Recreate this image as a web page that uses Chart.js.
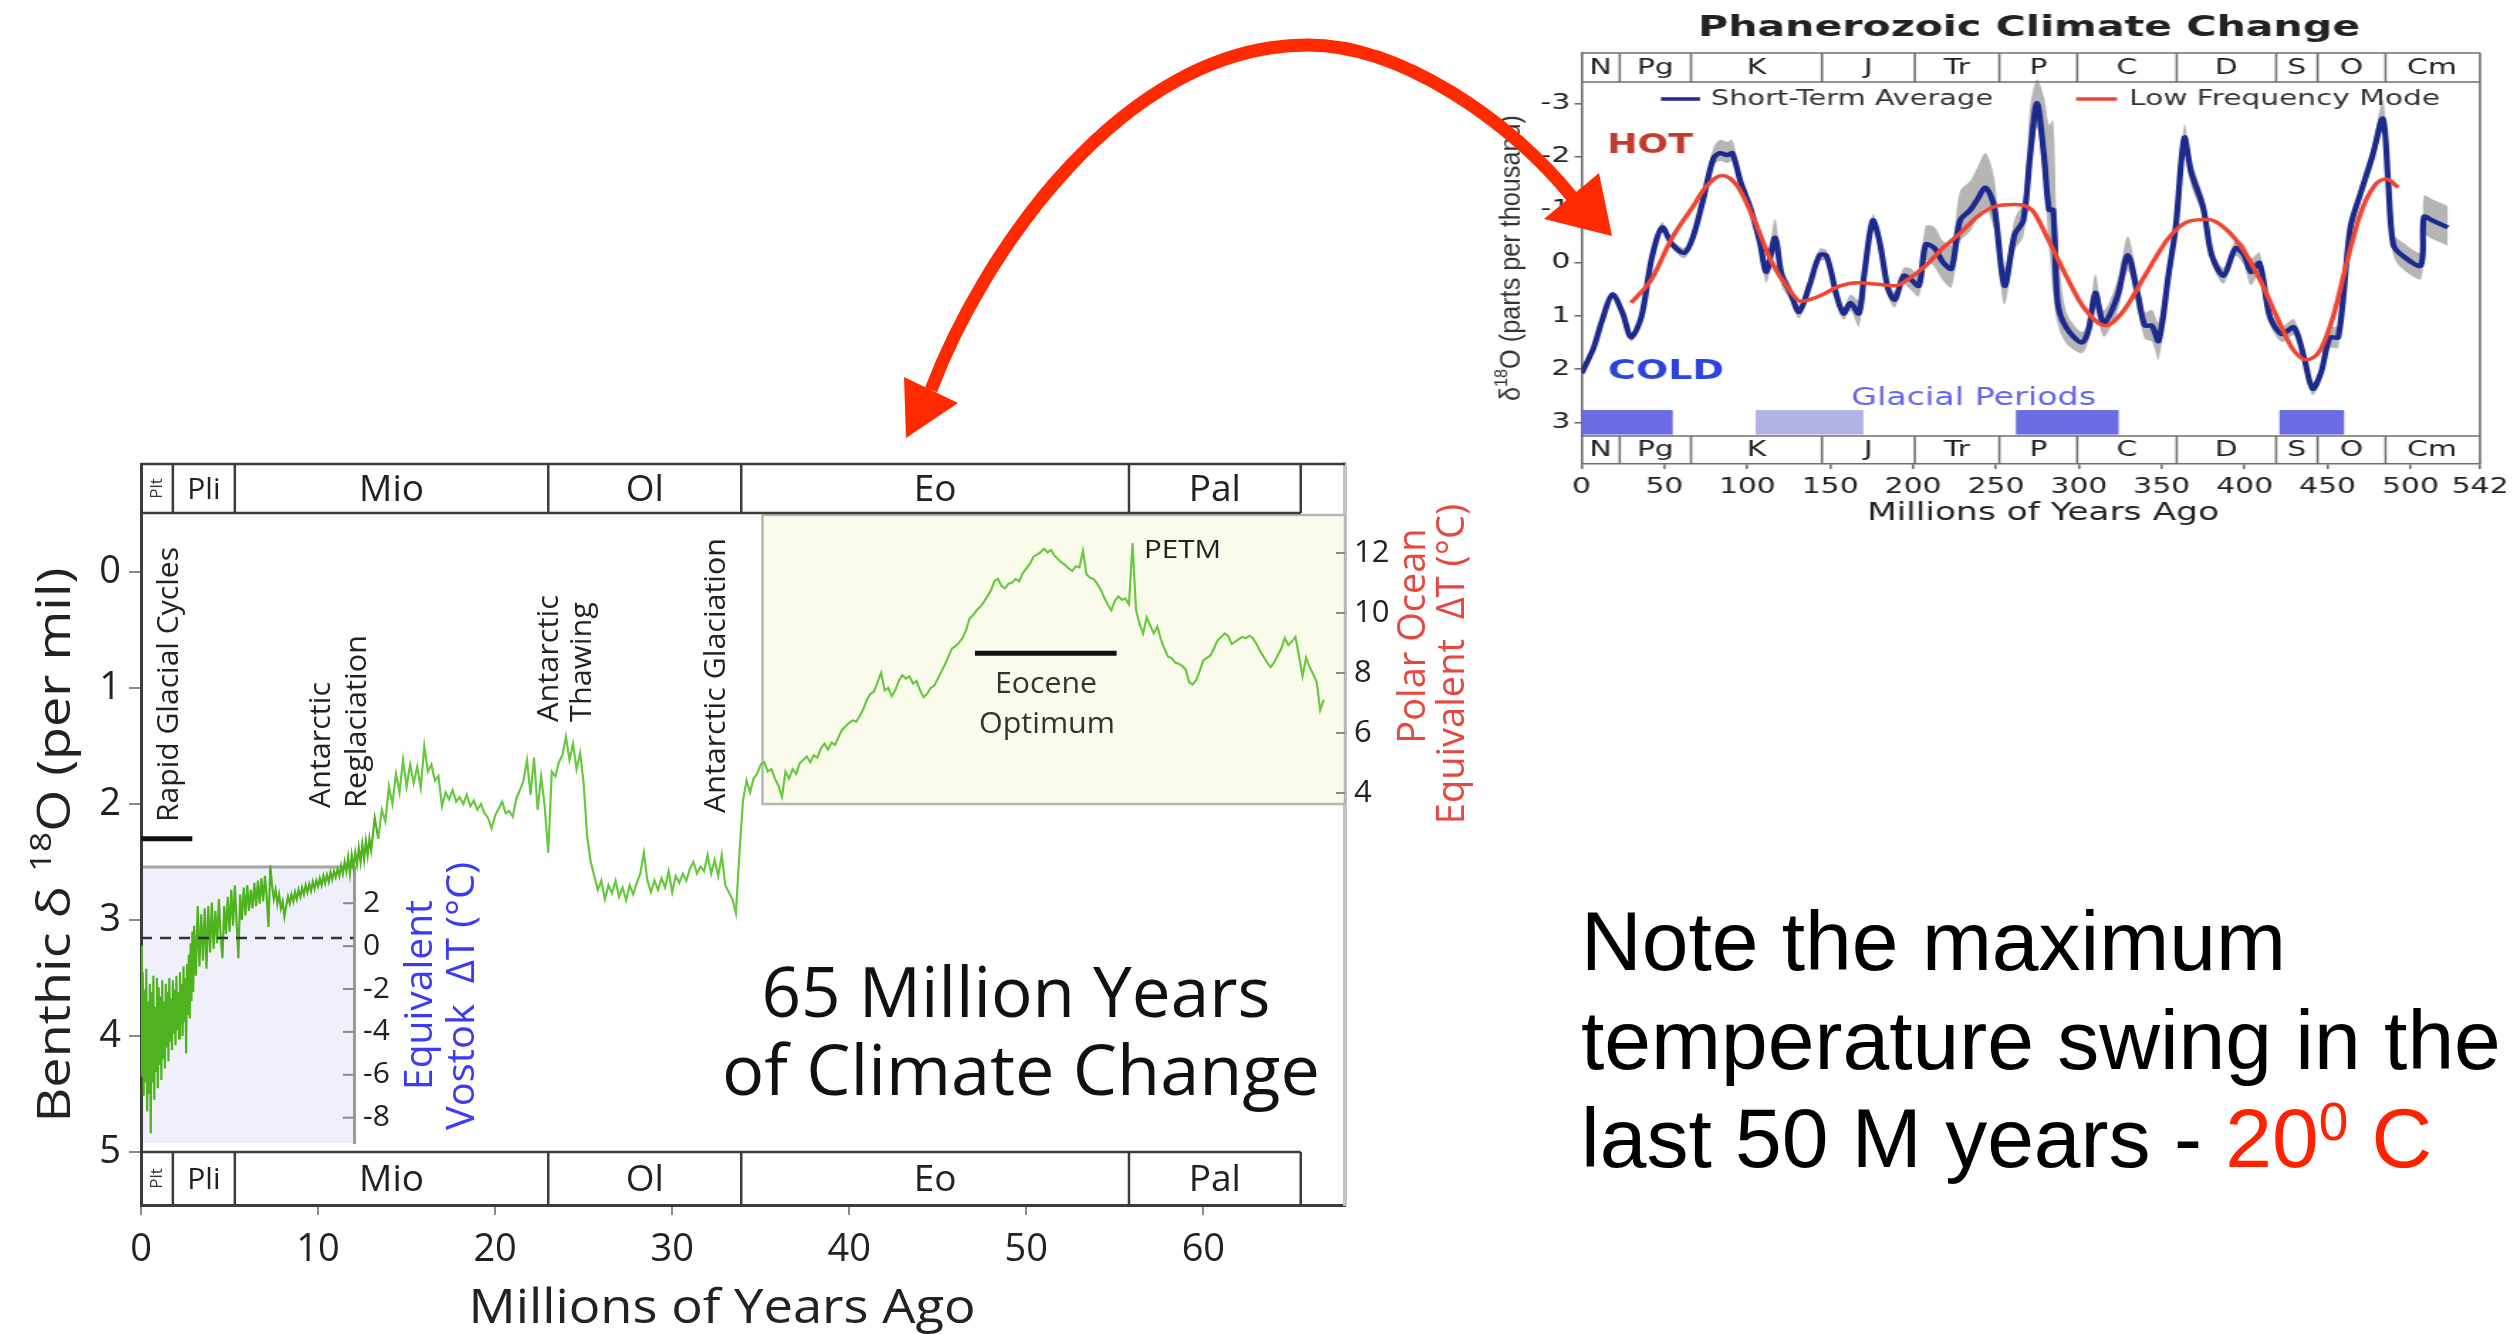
<!DOCTYPE html>
<html lang="en">
<head>
<meta charset="utf-8">
<title>65 Million Years of Climate Change</title>
<script src="https://cdn.jsdelivr.net/npm/chart.js@4.4.1/dist/chart.umd.min.js"></script>
<style>
  html, body { margin: 0; padding: 0; background: #ffffff; }
  body { position: relative; width: 2517px; height: 1334px; overflow: hidden; }
  canvas { position: absolute; }
  #vostokChart { left: 0; top: 840px; z-index: 1; }
  #cenozoicChart { left: 0; top: 420px; z-index: 2; }
  #phanerozoicChart { left: 1480px; top: 0; z-index: 3; }
  #arrow { position: absolute; left: 0; top: 0; z-index: 4; pointer-events: none; }
  #note { position: absolute; left: 1581px; top: 892px; z-index: 5;
          font-family: 'Liberation Sans', Arial, Helvetica, sans-serif; font-size: 84px;
          line-height: 98.5px; color: #000; white-space: nowrap; }
  #note .hot { color: #ff2200; }
  #note .deg { font-size: 53px; position: relative; top: -27px; }
</style>
</head>
<body>
<canvas id="vostokChart" width="520" height="330"></canvas>
<canvas id="cenozoicChart" width="1500" height="914"></canvas>
<canvas id="phanerozoicChart" width="730" height="540" style="width:1037px;height:540px"></canvas>

<svg id="arrow" width="2517" height="1334" viewBox="0 0 2517 1334">
  <path d="M 931 390 C 980 260, 1120 45, 1308 45 C 1400 45, 1510 120, 1572 197"
        fill="none" stroke="#ff2a00" stroke-width="13" stroke-linecap="butt"/>
  <polygon points="906,438 904,377 958,403" fill="#ff2a00"/>
  <polygon points="1612,236 1544,219 1599,173" fill="#ff2a00"/>
</svg>

<div id="note">Note the maximum<br>temperature swing in the<br>last 50 M years - <span class="hot">20<span class="deg">0</span> C</span></div>

<script>
// ---------------------------------------------------------------------------
// Cenozoic benthic foraminifera δ18O (per mil), read on regular age steps (Myr)
// ---------------------------------------------------------------------------
const glacialBandStart = 0.0, glacialBandStep = 0.05;
const glacialBandD18O = [
  3.22,4.35,3.45,4.52,3.60,4.40,3.42,4.65,3.70,4.50,
  3.55,4.84,3.62,4.40,3.48,4.55,3.75,4.30,3.50,4.45,
  3.58,4.25,3.66,4.38,3.52,4.20,3.70,4.28,3.55,4.10,
  3.62,4.22,3.50,4.05,3.68,4.12,3.52,3.98,3.60,4.08,
  3.48,3.95,3.62,4.02,3.45,3.90,3.55,4.00,3.40,3.88,
  3.50,4.15,3.38,3.82,3.30,3.85,3.20,3.70,3.10,3.62
];
const lateNeogeneStart = 3.0, lateNeogeneStep = 0.1;
const lateNeogeneD18O = [
  3.05,3.48,2.88,3.40,2.95,3.35,2.90,3.42,2.88,3.28,
  2.85,3.25,2.92,3.20,2.82,3.15,3.33,2.88,3.12,2.80,
  3.10,2.74,3.05,2.70,3.02,3.33,2.78,3.00,2.72,2.96,
  2.70,2.92,2.74,2.90,2.68,2.88,2.66,2.86,2.64,2.84,
  2.62,2.80,3.06,2.53,2.70,2.82,2.74,2.86,2.78,2.90,
  2.84,2.97,2.88,2.80,2.86,2.78,2.84,2.76,2.82,2.74,
  2.80,2.72,2.78,2.70,2.76,2.69,2.75,2.67,2.73,2.66,
  2.71,2.64,2.70,2.62,2.68,2.61,2.67,2.59,2.65,2.58,
  2.63,2.56,2.62,2.53,2.60,2.50,2.58,2.46,2.60,2.44,
  2.55,2.42,2.52,2.38,2.50,2.35,2.48,2.32,2.44,2.30
];
const mioOligoStart = 13.0, mioOligoStep = 0.2;
const mioOligoD18O = [
  2.40,2.12,2.30,2.05,2.15,1.85,2.00,1.74,1.90,1.62,
  1.85,1.66,1.82,1.68,1.86,1.50,1.72,1.66,1.80,1.76,
  2.02,1.90,1.96,1.88,1.98,1.94,2.00,1.92,2.02,1.97,
  2.05,2.00,2.08,2.12,2.21,2.10,2.04,1.98,2.08,2.06,
  2.11,1.95,1.88,1.80,1.62,1.92,1.60,2.05,1.76,2.02,
  2.42,1.72,1.76,1.64,1.58,1.42,1.62,1.48,1.70,1.56,
  1.82,2.28,2.50,2.62,2.74,2.66,2.82,2.70,2.77,2.66,
  2.80,2.72,2.83,2.70,2.78,2.68,2.60,2.42,2.66,2.76,
  2.66,2.74,2.64,2.72,2.58,2.76,2.62,2.68,2.60,2.66,
  2.56,2.50,2.60,2.54,2.58,2.44,2.60,2.48,2.62,2.44,
  2.70,2.76,2.82,2.94,2.42,1.97,1.80,1.90,1.78
];
const paleogeneStart = 34.8, paleogeneStep = 0.2;
const paleogeneD18O = [
  1.74,1.66,1.64,1.72,1.70,1.78,1.84,1.94,1.72,1.78,
  1.70,1.74,1.65,1.62,1.59,1.64,1.58,1.60,1.52,1.48,
  1.53,1.47,1.49,1.42,1.36,1.33,1.30,1.28,1.29,1.24,
  1.18,1.10,1.05,1.03,0.95,0.87,1.02,1.00,1.07,1.02,
  0.94,0.89,0.92,0.90,0.96,0.94,1.02,1.08,1.05,1.00,
  0.98,0.92,0.86,0.80,0.73,0.66,0.64,0.61,0.57,0.50,
  0.40,0.37,0.33,0.30,0.26,0.21,0.16,0.08,0.06,0.12,
  0.14,0.10,0.09,0.06,0.08,0.01,-0.03,-0.07,-0.13,-0.15,
  -0.17,-0.20,-0.17,-0.19,-0.14,-0.11,-0.08,-0.06,-0.03,-0.01,
  -0.05,-0.04,-0.18,0.02,0.05,0.06,0.10,0.15,0.22,0.28,
  0.33,0.25,0.21,0.24,0.23,0.28,-0.25,0.33,0.45,0.53,
  0.39,0.46,0.53,0.47,0.58,0.66,0.73,0.74,0.78,0.79,
  0.81,0.84,0.95,0.97,0.93,0.85,0.76,0.74,0.72,0.66,
  0.59,0.56,0.53,0.55,0.62,0.60,0.58,0.56,0.57,0.55,
  0.57,0.62,0.68,0.73,0.78,0.82,0.78,0.72,0.66,0.57,
  0.63,0.60,0.56,0.72,0.90,0.74,0.82,0.88,0.95,1.19,
  1.10
];

const cenozoicEpochBounds = [0, 1.8, 5.3, 23.0, 33.9, 55.8, 65.5];
const cenozoicEpochNames  = ['Plt', 'Pli', 'Mio', 'Ol', 'Eo', 'Pal'];
const ageTickValues    = [0, 10, 20, 30, 40, 50, 60];
const d18oTickValues   = [0, 1, 2, 3, 4, 5];
const polarTickValues  = [4, 6, 8, 10, 12];
const vostokTickValues = [-8, -6, -4, -2, 0, 2];
const vostokZeroD18O = 3.155;          // δ18O level where the Vostok ΔT is 0 °C
const warmBoxStartAge = 35.1, warmBoxFloorD18O = 2.0;
const glacialCyclesSpan = [0, 2.9];
const eoceneOptimumSpan = [47.1, 55.1];

// ---------------------------------------------------------------------------
// Phanerozoic δ18O (parts per thousand) against age (Myr)
// ---------------------------------------------------------------------------
const phanAge = [
  0,7.2,12.4,18.6,24.8,29.9,36.1,42.3,48.5,54.7,
  62.0,67.1,73.3,79.5,83.6,87.8,90.9,96.0,102.2,107.4,
  111.5,116.7,120.8,126.0,131.2,137.4,143.6,147.7,153.9,158.0,
  162.2,167.3,170.4,175.6,179.7,184.9,189.0,194.2,198.3,203.5,
  207.6,212.8,217.9,223.1,228.3,234.5,238.6,243.7,248.9,255.1,
  261.3,266.5,270.6,274.7,278.9,282.0,284.5,287.2,292.3,301.6,
  305.8,309.9,315.0,323.3,329.5,335.7,339.8,344.0,348.1,354.3,
  358.4,363.6,367.7,374.9,380.1,387.3,394.5,399.7,403.8,409.0,
  415.2,422.4,429.7,435.9,441.0,446.2,451.4,456.5,463.8,470.0,
  477.2,483.4,486.5,489.6,494.8,506.2,508.2,513.3,522.6
];
const phanShortTerm = [
  2.08,1.60,1.08,0.59,0.95,1.40,1.01,-0.09,-0.67,-0.35,
  -0.19,-0.48,-1.19,-1.97,-2.07,-2.03,-2.07,-1.52,-1.00,-0.41,
  0.17,-0.48,0.24,0.56,0.92,0.43,-0.15,-0.14,0.62,0.95,
  0.75,0.95,0.24,-0.80,-0.41,0.49,0.69,0.24,0.30,0.43,
  -0.35,-0.28,-0.02,0.11,-0.80,-1.00,-1.19,-1.42,-1.06,0.43,
  -0.54,-0.80,-2.03,-3.01,-2.03,-1.00,-1.00,0.75,1.21,1.50,
  1.27,0.56,1.14,0.62,-0.15,0.62,1.18,1.18,1.47,0.17,
  -0.67,-2.36,-1.71,-1.06,-0.15,0.24,-0.28,-0.15,0.17,0.00,
  1.01,1.34,1.21,1.79,2.37,2.05,1.40,1.40,-0.67,-1.32,
  -2.03,-2.72,-1.58,-0.35,-0.15,0.05,-0.87,-0.80,-0.67
];
// half-width of the grey uncertainty envelope, warm side and cold side
const phanSpreadWarm = [
  0.05,0.05,0.05,0.05,0.05,0.08,0.08,0.08,0.10,0.08,
  0.10,0.10,0.15,0.20,0.25,0.25,0.25,0.15,0.12,0.12,
  0.20,0.35,0.20,0.15,0.12,0.12,0.12,0.10,0.12,0.12,
  0.15,0.25,0.15,0.12,0.12,0.15,0.15,0.15,0.20,0.20,
  0.35,0.40,0.40,0.45,0.55,0.55,0.60,0.65,0.55,0.35,
  0.30,0.35,0.90,0.45,1.10,1.60,1.70,1.20,0.30,0.20,
  0.20,0.35,0.25,0.30,0.35,0.30,0.25,0.30,0.35,0.25,
  0.20,0.25,0.25,0.20,0.15,0.15,0.15,0.20,0.25,0.20,
  0.15,0.15,0.15,0.12,0.12,0.15,0.20,0.20,0.15,0.15,
  0.20,0.35,0.20,0.20,0.25,0.25,0.40,0.40,0.40
];
const phanSpreadCold = [
  0.05,0.05,0.05,0.05,0.05,0.08,0.08,0.08,0.10,0.08,
  0.10,0.10,0.15,0.15,0.15,0.15,0.15,0.15,0.12,0.12,
  0.20,0.30,0.20,0.15,0.12,0.12,0.12,0.10,0.12,0.12,
  0.15,0.25,0.15,0.12,0.12,0.15,0.15,0.15,0.20,0.20,
  0.30,0.35,0.35,0.35,0.40,0.40,0.35,0.40,0.45,0.35,
  0.30,0.30,0.40,0.45,0.50,0.70,1.60,0.40,0.30,0.20,
  0.20,0.30,0.25,0.30,0.30,0.30,0.25,0.30,0.35,0.25,
  0.20,0.25,0.25,0.20,0.15,0.15,0.15,0.20,0.25,0.20,
  0.15,0.15,0.15,0.12,0.12,0.15,0.20,0.20,0.15,0.15,
  0.20,0.25,0.20,0.20,0.25,0.25,0.35,0.35,0.35
];
const lowFreqAge = [
  29.9,42.3,54.7,67.1,75.4,84.7,94.0,104.3,114.6,125.0,
  132.2,143.6,156.0,166.3,178.7,189.0,197.2,207.6,217.9,228.3,
  238.6,248.9,261.3,271.6,282.0,292.3,302.6,316.1,327.4,339.8,
  354.3,366.6,378.0,389.4,399.7,410.1,420.4,428.6,436.9,445.2,
  453.4,461.7,470.0,478.2,485.4,492.7
];
const lowFreqMode = [
  0.75,0.30,-0.48,-1.06,-1.45,-1.65,-1.45,-0.80,-0.02,0.49,
  0.72,0.62,0.43,0.37,0.40,0.43,0.30,0.05,-0.28,-0.56,
  -0.87,-1.06,-1.10,-1.00,-0.41,0.24,0.82,1.18,0.88,0.24,
  -0.48,-0.79,-0.82,-0.62,-0.22,0.37,1.08,1.60,1.82,1.66,
  1.01,-0.02,-0.94,-1.45,-1.58,-1.42
];
const phanPeriodBounds = [0, 23, 66, 145, 201, 252, 299, 359, 419, 444, 485, 541];
const phanPeriodNames  = ['N', 'Pg', 'K', 'J', 'Tr', 'P', 'C', 'D', 'S', 'O', 'Cm'];
const glacialFrom  = [0, 105, 262, 421];
const glacialTo    = [55, 170, 324, 460];
const glacialMinor = [false, true, false, false];
const phanAgeTicks  = [0, 50, 100, 150, 200, 250, 300, 350, 400, 450, 500, 542];
const phanD18OTicks = [-3, -2, -1, 0, 1, 2, 3];

// ---------------------------------------------------------------------------
// helpers
// ---------------------------------------------------------------------------
const OPEN = "'Open Sans', 'DejaVu Sans', sans-serif";
const VERA = "'DejaVu Sans', Verdana, sans-serif";
const ARIAL = "'Liberation Sans', Arial, sans-serif";

function onAgeGrid(start, step, values) {
  return values.map((v, i) => ({ x: Math.round((start + i * step) * 1000) / 1000, y: v }));
}
function pairUp(xs, ys) { return xs.map((v, i) => ({ x: v, y: ys[i] })); }
function fixedTicks(values) { return scale => { scale.ticks = values.map(v => ({ value: v })); }; }
function seg(ctx, x0, y0, x1, y1) { ctx.beginPath(); ctx.moveTo(x0, y0); ctx.lineTo(x1, y1); ctx.stroke(); }

// text runs: [{text, font, dy}] drawn from (x, y); optional rotation, fitted width, horizontal pre-scale
function drawRuns(ctx, runs, x, y, o) {
  ctx.save();
  ctx.translate(x, y);
  if (o.sx) ctx.scale(o.sx, 1);
  if (o.rotate) ctx.rotate(-Math.PI / 2);
  ctx.fillStyle = o.color || '#222';
  ctx.textBaseline = o.baseline || 'alphabetic';
  ctx.textAlign = 'left';
  let total = 0;
  runs.forEach(r => { ctx.font = r.font; r.w = ctx.measureText(r.text).width; total += r.w; });
  if (o.width) ctx.scale(o.width / total, 1);
  let cx = o.align === 'center' ? -total / 2 : (o.align === 'right' ? -total : 0);
  runs.forEach(r => { ctx.font = r.font; ctx.fillText(r.text, cx, r.dy || 0); cx += r.w; });
  ctx.restore();
}
function drawText(ctx, text, x, y, font, o) {
  drawRuns(ctx, [{ text, font }], x, y, o || {});
}

// ---------------------------------------------------------------------------
// Vostok equivalent ΔT panel (sits underneath the main Cenozoic chart)
// ---------------------------------------------------------------------------
const VOSTOK_TOP = 840;
const vostokDecor = {
  id: 'vostokDecor',
  beforeDraw(chart) {
    const { ctx, chartArea: a } = chart;
    ctx.save();
    ctx.fillStyle = '#f0f0fc';
    ctx.fillRect(a.left, a.top, a.right - a.left, a.bottom - a.top);
    ctx.strokeStyle = '#a6a6a6'; ctx.lineWidth = 3;
    seg(ctx, a.left, a.top, a.right, a.top);
    ctx.restore();
  },
  afterDraw(chart) {
    const { ctx, chartArea: a, scales: { y } } = chart;
    ctx.save();
    ctx.strokeStyle = '#8a8a8a'; ctx.lineWidth = 2;
    vostokTickValues.forEach(v => { const py = y.getPixelForValue(v); seg(ctx, a.right - 11, py, a.right, py); });
    const Y = v => v - VOSTOK_TOP;
    drawText(ctx, 'Equivalent', 421, Y(995), `38px ${OPEN}`,
      { rotate: true, align: 'center', baseline: 'middle', width: 190, color: '#3b3bf5' });
    drawText(ctx, 'Vostok  ΔT (°C)', 463, Y(996), `38px ${OPEN}`,
      { rotate: true, align: 'center', baseline: 'middle', width: 268, color: '#3b3bf5' });
    ctx.restore();
  }
};

new Chart(document.getElementById('vostokChart'), {
  type: 'line',
  data: { datasets: [] },
  options: {
    responsive: false, animation: false, devicePixelRatio: 1,
    layout: { padding: { left: 141, top: 12, bottom: 18, right: 0 } },
    plugins: { legend: { display: false }, tooltip: { enabled: false } },
    scales: {
      x: { type: 'linear', min: 0, max: 12, display: false },
      y: {
        type: 'linear', position: 'right', min: -9.18, max: 3.69,
        afterBuildTicks: fixedTicks(vostokTickValues),
        afterFit: s => { s.width = 166; },
        grid: { drawOnChartArea: false, drawTicks: false },
        border: { display: true, color: '#9a9a9a', width: 3 },
        ticks: { padding: 9, font: { family: OPEN, size: 30 }, color: '#222', autoSkip: false }
      }
    }
  },
  plugins: [vostokDecor]
});

// ---------------------------------------------------------------------------
// Main Cenozoic chart
// ---------------------------------------------------------------------------
const CZ_TOP = 420;
const cenozoicDecor = {
  id: 'cenozoicDecor',
  beforeDatasetsDraw(chart) {
    const { ctx, chartArea: a, scales: { x, y } } = chart;
    ctx.save();
    const bx0 = x.getPixelForValue(warmBoxStartAge);
    const by0 = a.top + 51, by1 = y.getPixelForValue(warmBoxFloorD18O);
    ctx.fillStyle = '#fbfbeb';
    ctx.fillRect(bx0, by0, a.right - bx0, by1 - by0);
    ctx.strokeStyle = '#b6b6b6'; ctx.lineWidth = 2.5;
    ctx.strokeRect(bx0, by0, a.right - bx0, by1 - by0);
    ctx.restore();
  },
  afterDraw(chart) {
    const { ctx, chartArea: a, scales: { x, y, yPolar } } = chart;
    const Y = v => v - CZ_TOP;
    ctx.save();

    // epoch header strips (top and bottom)
    const topA = a.top, topB = a.top + 49;
    const botA = y.getPixelForValue(5), botB = a.bottom;
    const endX = x.getPixelForValue(cenozoicEpochBounds[cenozoicEpochBounds.length - 1]);
    ctx.strokeStyle = '#3c3c3c'; ctx.lineWidth = 2.5;
    seg(ctx, a.left, topA, a.right, topA);
    seg(ctx, a.left, topB, endX, topB);
    seg(ctx, a.left, botA, endX, botA);
    cenozoicEpochBounds.slice(1).forEach(b => {
      const px = x.getPixelForValue(b);
      seg(ctx, px, topA, px, topB);
      seg(ctx, px, botA, px, botB);
    });
    cenozoicEpochNames.forEach((name, i) => {
      const cx = (x.getPixelForValue(cenozoicEpochBounds[i]) + x.getPixelForValue(cenozoicEpochBounds[i + 1])) / 2;
      [(topA + topB) / 2, (botA + botB) / 2].forEach(cy => {
        if (name === 'Plt') {
          drawText(ctx, name, cx, cy, `17px ${OPEN}`, { rotate: true, align: 'center', baseline: 'middle', color: '#333' });
        } else {
          const size = name === 'Pli' ? 30 : 37;
          drawText(ctx, name, cx, cy + 2, `${size}px ${OPEN}`, { align: 'center', baseline: 'middle', color: '#222' });
        }
      });
    });

    // inward tick marks of the polar-ocean scale
    ctx.strokeStyle = '#8a8a8a'; ctx.lineWidth = 2;
    polarTickValues.forEach(v => { const py = yPolar.getPixelForValue(v); seg(ctx, a.right - 9, py, a.right, py); });

    // event bars
    ctx.strokeStyle = '#111'; ctx.lineWidth = 5;
    let py = y.getPixelForValue(2.30);
    seg(ctx, x.getPixelForValue(glacialCyclesSpan[0]), py, x.getPixelForValue(glacialCyclesSpan[1]), py);
    py = y.getPixelForValue(0.70);
    seg(ctx, x.getPixelForValue(eoceneOptimumSpan[0]), py, x.getPixelForValue(eoceneOptimumSpan[1]), py);

    // axis titles
    drawRuns(ctx, [
      { text: 'Benthic δ ', font: `46px ${OPEN}` },
      { text: '18', font: `30px ${OPEN}`, dy: -15 },
      { text: 'O (per mil)', font: `46px ${OPEN}` }
    ], 57, Y(845), { rotate: true, align: 'center', baseline: 'middle', width: 555, color: '#222' });
    drawText(ctx, 'Millions of Years Ago', 722, Y(1323), `48px ${OPEN}`, { align: 'center', width: 507, color: '#222' });
    drawText(ctx, 'Polar Ocean', 1414, Y(636), `38px ${OPEN}`, { rotate: true, align: 'center', baseline: 'middle', color: '#e8473f' });
    drawText(ctx, 'Equivalent  ΔT (°C)', 1453, Y(664), `38px ${OPEN}`, { rotate: true, align: 'center', baseline: 'middle', color: '#e8473f' });

    // event labels
    const lab = `30px ${OPEN}`;
    const rot = w => ({ rotate: true, baseline: 'middle', width: w, color: '#222' });
    drawText(ctx, 'Rapid Glacial Cycles', 169, Y(822), lab, rot(275));
    drawText(ctx, 'Antarctic', 321, Y(808), lab, rot(126));
    drawText(ctx, 'Reglaciation', 357, Y(808), lab, rot(173));
    drawText(ctx, 'Antarctic', 549, Y(722), lab, rot(127));
    drawText(ctx, 'Thawing', 582, Y(722), lab, rot(120));
    drawText(ctx, 'Antarctic Glaciation', 716, Y(813), lab, rot(275));
    drawText(ctx, 'PETM', 1144, Y(558), `26px ${OPEN}`, { width: 77, color: '#222' });
    drawText(ctx, 'Eocene', 1046, Y(693), `30px ${OPEN}`, { align: 'center', width: 102, color: '#333' });
    drawText(ctx, 'Optimum', 1047, Y(733), `30px ${OPEN}`, { align: 'center', width: 136, color: '#333' });
    drawText(ctx, '65 Million Years', 1016, Y(1017), `70px ${OPEN}`, { align: 'center', width: 509, color: '#111' });
    drawText(ctx, 'of Climate Change', 1021, Y(1095), `70px ${OPEN}`, { align: 'center', width: 598, color: '#111' });
    ctx.restore();
  }
};

const benthicPoints = [
  ...onAgeGrid(glacialBandStart, glacialBandStep, glacialBandD18O),
  ...onAgeGrid(lateNeogeneStart, lateNeogeneStep, lateNeogeneD18O),
  ...onAgeGrid(mioOligoStart, mioOligoStep, mioOligoD18O),
  ...onAgeGrid(paleogeneStart, paleogeneStep, paleogeneD18O)
];

new Chart(document.getElementById('cenozoicChart'), {
  type: 'line',
  data: {
    datasets: [
      {
        data: benthicPoints, borderColor: '#5cbf31', borderWidth: 2.2, pointRadius: 0, tension: 0, order: 1,
        segment: { borderColor: c => (c.p0.parsed.x < 13.4 ? '#4fb320' : '#66c93f') }
      },
      {
        data: [{ x: 0, y: vostokZeroD18O }, { x: 12, y: vostokZeroD18O }],
        borderColor: '#333', borderWidth: 2.5, borderDash: [11, 8], pointRadius: 0, order: 0
      }
    ]
  },
  options: {
    responsive: false, animation: false, devicePixelRatio: 1,
    layout: { padding: { left: 0, right: 0, top: 44, bottom: 0 } },
    plugins: { legend: { display: false }, tooltip: { enabled: false } },
    scales: {
      x: {
        type: 'linear', min: 0, max: 68,
        afterBuildTicks: fixedTicks(ageTickValues),
        afterFit: s => { s.height = 129; },
        grid: { drawOnChartArea: false, tickLength: 10, color: '#8a8a8a', lineWidth: 2 },
        border: { display: true, color: '#3c3c3c', width: 3 },
        ticks: { padding: 12, maxRotation: 0, autoSkip: false, font: { family: OPEN, size: 38 }, color: '#222' }
      },
      y: {
        type: 'linear', position: 'left', reverse: true, min: -0.931, max: 5.457,
        afterBuildTicks: fixedTicks(d18oTickValues),
        afterFit: s => { s.width = 141; },
        grid: { drawOnChartArea: false, tickLength: 12, color: '#8a8a8a', lineWidth: 2 },
        border: { display: true, color: '#3c3c3c', width: 3 },
        ticks: { padding: 8, autoSkip: false, font: { family: OPEN, size: 38 }, color: '#222' }
      },
      yPolar: {
        type: 'linear', position: 'right', min: -9.733, max: 14.967,
        afterBuildTicks: fixedTicks(polarTickValues),
        afterFit: s => { s.width = 155; },
        grid: { drawOnChartArea: false, drawTicks: false },
        border: { display: true, color: '#c4c4c4', width: 4 },
        ticks: { padding: 9, autoSkip: false, font: { family: OPEN, size: 31 }, color: '#222' }
      }
    }
  },
  plugins: [cenozoicDecor]
});

// ---------------------------------------------------------------------------
// Phanerozoic climate change panel (canvas is displayed stretched horizontally)
// ---------------------------------------------------------------------------
const STRETCH = 1037 / 730;
const phanDecor = {
  id: 'phanDecor',
  beforeDatasetsDraw(chart) {
    const { ctx, scales: { x, y } } = chart;
    ctx.save();
    const yA = y.getPixelForValue(2.77), yB = y.getPixelForValue(3.23);
    glacialFrom.forEach((g, i) => {
      const x0 = x.getPixelForValue(g), x1 = x.getPixelForValue(glacialTo[i]);
      ctx.fillStyle = glacialMinor[i] ? '#b3b3e8' : '#6b6be4';
      ctx.fillRect(x0, yA, x1 - x0, yB - yA);
    });
    ctx.restore();
  },
  afterDraw(chart) {
    const { ctx, chartArea: a, scales: { x, y } } = chart;
    ctx.save();
    ctx.strokeStyle = '#6e6e6e'; ctx.lineWidth = 1.6;
    seg(ctx, a.left, a.top, a.right, a.top);
    seg(ctx, a.right, a.top, a.right, a.bottom);
    const hTop = a.top + 29, hBot = a.bottom - 28;
    seg(ctx, a.left, hTop, a.right, hTop);
    seg(ctx, a.left, hBot, a.right, hBot);
    phanPeriodBounds.slice(1, -1).forEach(b => {
      const px = x.getPixelForValue(b);
      seg(ctx, px, a.top, px, hTop);
      seg(ctx, px, hBot, px, a.bottom);
    });
    phanPeriodNames.forEach((name, i) => {
      const cx = (x.getPixelForValue(phanPeriodBounds[i]) + x.getPixelForValue(phanPeriodBounds[i + 1])) / 2;
      drawText(ctx, name, cx, (a.top + hTop) / 2 + 1, `21px ${VERA}`, { align: 'center', baseline: 'middle', color: '#222' });
      drawText(ctx, name, cx, (hBot + a.bottom) / 2 + 1, `21px ${VERA}`, { align: 'center', baseline: 'middle', color: '#222' });
    });

    // title, legend and labels
    drawText(ctx, 'Phanerozoic Climate Change', 386.5, 36, `bold 29px ${VERA}`, { align: 'center', width: 466, color: '#222' });
    ctx.lineWidth = 3.5;
    ctx.strokeStyle = '#1b2a8c'; seg(ctx, 127.4, 99, 154.9, 99);
    ctx.strokeStyle = '#f04632'; seg(ctx, 419.6, 99, 448.4, 99);
    drawText(ctx, 'Short-Term Average', 162.6, 105, `21px ${VERA}`, { width: 198.5, color: '#333' });
    drawText(ctx, 'Low Frequency Mode', 456.9, 105, `21px ${VERA}`, { width: 218.9, color: '#333' });
    drawText(ctx, 'HOT', 89.4, 153, `bold 26px ${VERA}`, { width: 60.6, color: '#c23b2f' });
    drawText(ctx, 'COLD', 90.1, 379, `bold 26px ${VERA}`, { width: 81.7, color: '#2c43de' });
    drawText(ctx, 'Glacial Periods', 261.2, 404.6, `25px ${VERA}`, { width: 172.5, color: '#6464ee' });
    drawText(ctx, 'Millions of Years Ago', 272.4, 520, `25px ${VERA}`, { width: 247.8, color: '#222' });
    drawRuns(ctx, [
      { text: 'δ', font: `28px ${ARIAL}` },
      { text: '18', font: `18px ${ARIAL}`, dy: -10 },
      { text: 'O (parts per thousand)', font: `28px ${ARIAL}` }
    ], 22.5, 401, { sx: 1 / STRETCH, rotate: true, baseline: 'middle', width: 286, color: '#333' });
    ctx.restore();
  }
};

const shortTermPoints = pairUp(phanAge, phanShortTerm);
const bandUpper = pairUp(phanAge, phanShortTerm.map((v, i) => v - phanSpreadWarm[i]));
const bandLower = pairUp(phanAge, phanShortTerm.map((v, i) => v + phanSpreadCold[i]));
const lowFreqPoints = pairUp(lowFreqAge, lowFreqMode);

new Chart(document.getElementById('phanerozoicChart'), {
  type: 'line',
  data: {
    datasets: [
      { data: bandUpper, fill: '+1', backgroundColor: '#b5b5b5', borderWidth: 0, pointRadius: 0, tension: 0.3, order: 3 },
      { data: bandLower, fill: false, borderWidth: 0, pointRadius: 0, tension: 0.3, order: 3 },
      { data: shortTermPoints, borderColor: '#1b2a8c', borderWidth: 4.2, pointRadius: 0, tension: 0.3, order: 1 },
      { data: lowFreqPoints, borderColor: '#f04632', borderWidth: 3.5, pointRadius: 0, cubicInterpolationMode: 'monotone', order: 0 }
    ]
  },
  options: {
    responsive: false, animation: false, devicePixelRatio: 1,
    layout: { padding: { left: 0, right: 22.5, top: 53, bottom: 0 } },
    plugins: { legend: { display: false }, tooltip: { enabled: false } },
    scales: {
      x: {
        type: 'linear', min: 0, max: 542,
        afterBuildTicks: fixedTicks(phanAgeTicks),
        afterFit: s => { s.height = 76; },
        grid: { drawOnChartArea: false, tickLength: 5, color: '#6e6e6e', lineWidth: 1.6 },
        border: { display: true, color: '#6e6e6e', width: 1.6 },
        ticks: { padding: 6, maxRotation: 0, autoSkip: false, font: { family: VERA, size: 21 }, color: '#222' }
      },
      y: {
        type: 'linear', position: 'left', reverse: true, min: -3.955, max: 3.785,
        afterBuildTicks: fixedTicks(phanD18OTicks),
        afterFit: s => { s.width = 71.5; },
        grid: { drawOnChartArea: false, tickLength: 5, color: '#6e6e6e', lineWidth: 1.6 },
        border: { display: true, color: '#6e6e6e', width: 1.6 },
        ticks: { padding: 3, autoSkip: false, font: { family: VERA, size: 21 }, color: '#222' }
      }
    }
  },
  plugins: [phanDecor]
});
</script>
</body>
</html>
